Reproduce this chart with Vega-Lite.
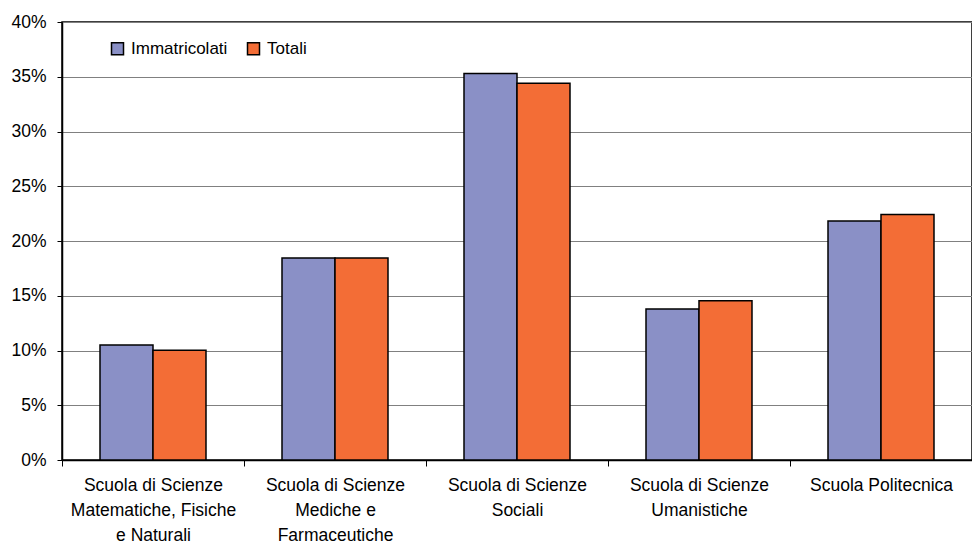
{
  "$schema": "https://vega.github.io/schema/vega-lite/v6.json",
  "width": 910,
  "height": 438,
  "autosize": "none",
  "padding": {"left": 62, "top": 22, "right": 0, "bottom": 83},
  "background": "white",
  "config": {
    "font": "Liberation Sans",
    "view": {"stroke": "black", "strokeWidth": 1.5}
  },
  "data": {
    "values": [
      {"scuola": "Scuola di Scienze Matematiche, Fisiche e Naturali", "serie": "Immatricolati", "quota": 0.105},
      {"scuola": "Scuola di Scienze Matematiche, Fisiche e Naturali", "serie": "Totali", "quota": 0.1003},
      {"scuola": "Scuola di Scienze Mediche e Farmaceutiche", "serie": "Immatricolati", "quota": 0.1845},
      {"scuola": "Scuola di Scienze Mediche e Farmaceutiche", "serie": "Totali", "quota": 0.1845},
      {"scuola": "Scuola di Scienze Sociali", "serie": "Immatricolati", "quota": 0.353},
      {"scuola": "Scuola di Scienze Sociali", "serie": "Totali", "quota": 0.344},
      {"scuola": "Scuola di Scienze Umanistiche", "serie": "Immatricolati", "quota": 0.1378},
      {"scuola": "Scuola di Scienze Umanistiche", "serie": "Totali", "quota": 0.1454},
      {"scuola": "Scuola Politecnica", "serie": "Immatricolati", "quota": 0.2182},
      {"scuola": "Scuola Politecnica", "serie": "Totali", "quota": 0.2243}
    ]
  },
  "mark": {"type": "bar", "stroke": "black", "strokeWidth": 1.5},
  "encoding": {
    "x": {
      "field": "scuola",
      "type": "nominal",
      "sort": null,
      "title": null,
      "scale": {"paddingInner": 0, "paddingOuter": 0},
      "axis": {
        "labelAngle": 0,
        "labelFontSize": 17.5,
        "labelColor": "black",
        "labelLineHeight": 25,
        "labelPadding": 10,
        "domainColor": "black",
        "domainWidth": 1.5,
        "tickColor": "black",
        "tickSize": 6,
        "tickBand": "extent",
        "labelExpr": "datum.label == 'Scuola di Scienze Matematiche, Fisiche e Naturali' ? ['Scuola di Scienze', 'Matematiche, Fisiche', 'e Naturali'] : datum.label == 'Scuola di Scienze Mediche e Farmaceutiche' ? ['Scuola di Scienze', 'Mediche e', 'Farmaceutiche'] : datum.label == 'Scuola di Scienze Sociali' ? ['Scuola di Scienze', 'Sociali'] : datum.label == 'Scuola di Scienze Umanistiche' ? ['Scuola di Scienze', 'Umanistiche'] : datum.label"
      }
    },
    "xOffset": {
      "field": "serie",
      "type": "nominal",
      "scale": {"paddingInner": 0, "paddingOuter": 0.717}
    },
    "y": {
      "field": "quota",
      "type": "quantitative",
      "title": null,
      "scale": {"domain": [0, 0.4], "nice": false},
      "axis": {
        "values": [0, 0.05, 0.1, 0.15, 0.2, 0.25, 0.3, 0.35, 0.4],
        "format": ".0%",
        "labelFontSize": 17.5,
        "labelColor": "black",
        "labelPadding": 11,
        "domainColor": "black",
        "domainWidth": 1.5,
        "tickColor": "black",
        "tickSize": 5,
        "gridColor": "#808080",
        "gridWidth": 1.2
      }
    },
    "color": {
      "field": "serie",
      "type": "nominal",
      "scale": {"domain": ["Immatricolati", "Totali"], "range": ["#8A90C6", "#F36D36"]},
      "legend": {
        "title": null,
        "orient": "none",
        "legendX": 47,
        "legendY": 18,
        "direction": "horizontal",
        "symbolType": "square",
        "symbolSize": 144,
        "symbolStrokeColor": "black",
        "symbolStrokeWidth": 1.5,
        "symbolOpacity": 1,
        "labelFontSize": 17,
        "labelColor": "black",
        "labelOffset": 5,
        "columnPadding": 16
      }
    }
  }
}
